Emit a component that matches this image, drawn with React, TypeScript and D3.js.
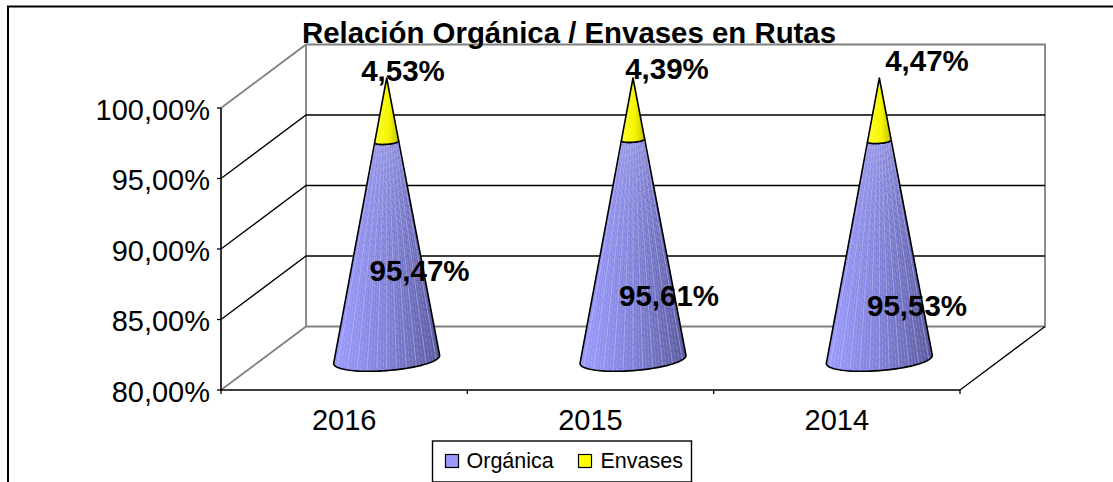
import React from "react";
import * as d3 from "d3";

const categories = ["2016", "2015", "2014"];
const organica = [95.47, 95.61, 95.53];
const envases = [4.53, 4.39, 4.47];
const yTicks = [80, 85, 90, 95, 100];
const labelPos = [
  { o: [419.5, 280.5], e: [403, 80.5] },
  { o: [669, 305.5], e: [667, 79] },
  { o: [917, 315.5], e: [927, 70.5] },
];
const FONT = "'Liberation Sans', Arial, sans-serif";
const W = 1113, H = 482;
const front = { l: 221, r: 960, b: 390, t: 108 };
const depth = { x: 85, y: -63 };
const x = d3.scaleBand<string>().domain(categories).range([front.l, front.r]);
const yFront = d3.scaleLinear().domain([80, 100]).range([front.b, front.t]);
const yBack = (v: number) => yFront(v) + depth.y - 0.5;
const yMid = d3.scaleLinear().domain([80, 100]).range([362, 78]);
const radius = d3.scaleLinear().domain([80, 100]).range([53, 0]);
const line = d3.line<[number, number]>();
const pct = (v: number) => v.toFixed(2).replace(".", ",") + "%";

function rimY(v: number, px: number, s: number) {
  const r = radius(v);
  return yMid(v) + s * 0.21 * r - (4 * px) / 53 - (2.5 * r) / 53;
}

function edge(cx: number, v: number): [number, number][] {
  const r = radius(v);
  const pts: [number, number][] = [];
  const n = 40;
  for (let i = 0; i <= n; i++) {
    const a = (Math.PI * i) / n;
    const px = -Math.cos(a) * r;
    pts.push([cx + px, rimY(v, px, Math.sin(a))]);
  }
  return pts;
}

function Cone({ cx, v0, v1, fill }: { cx: number; v0: number; v1: number; fill: string }) {
  const bottom = edge(cx, v0);
  const top = v1 >= 99.999 ? [[cx, yMid(100)] as [number, number]] : edge(cx, v1).reverse();
  const d = line([...bottom, ...top]) + "Z";
  return <path d={d} fill={fill} stroke="#000" strokeWidth={1.6} strokeLinejoin="round" />;
}

function Stripes({ cx, v0, v1 }: { cx: number; v0: number; v1: number }) {
  const fracs = d3.range(-0.93, 0.94, 0.062);
  return (
    <g stroke="#d4d4ff" strokeWidth={0.9}>
      {fracs.map((f, i) => {
        const px0 = f * radius(v0);
        const px1 = f * radius(v1);
        return (
          <line
            key={i}
            x1={cx + px0}
            y1={rimY(v0, px0, Math.sqrt(1 - f * f)) - 1}
            x2={cx + px1}
            y2={rimY(v1, px1, Math.sqrt(1 - f * f)) + 1}
            strokeOpacity={i % 3 === 0 ? 0.55 : 0.3}
            strokeDasharray={i % 3 === 0 ? "14 1" : "5 2"}
            strokeDashoffset={i * 2.3}
          />
        );
      })}
    </g>
  );
}

export default function App() {
  const backTicks = yTicks.slice(1, -1);
  return (
    <svg width={W} height={H} style={{ position: "absolute", left: 0, top: 0, background: "#fff" }} fontFamily={FONT}>
      <defs>
        <linearGradient id="org" x1="0" x2="1" y1="0" y2="0">
          <stop offset="0" stopColor="#9c9cff" />
          <stop offset="0.5" stopColor="#8080d8" />
          <stop offset="1" stopColor="#5a5a9c" />
        </linearGradient>
        <linearGradient id="env" x1="0" x2="1" y1="0" y2="0">
          <stop offset="0" stopColor="#ffff33" />
          <stop offset="0.6" stopColor="#f4f400" />
          <stop offset="1" stopColor="#c0c000" />
        </linearGradient>
      </defs>
      <path d="M8 500V6.5H1120" fill="none" stroke="#000" strokeWidth={2} />

      {/* back wall and floor */}
      <g fill="none" stroke="#808080" strokeWidth={1.8}>
        <path d={line([[front.l, front.t], [front.l + depth.x, yBack(100)], [front.r + depth.x, yBack(100)], [front.r + depth.x, yBack(80)], [front.l + depth.x, yBack(80)], [front.l + depth.x, yBack(100)]])!} />
        <path d={line([[front.l, front.b], [front.l + depth.x, yBack(80)]])!} />
      </g>
      <g fill="none" stroke="#000" strokeWidth={1.3}>
        {backTicks.map((t) => (
          <path key={t} d={line([[front.l, yFront(t)], [front.l + depth.x, yBack(t)], [front.r + depth.x, yBack(t)]])!} />
        ))}
        <path d={line([[front.r, front.b], [front.r + depth.x, yBack(80)]])!} />
        <path d={line([[front.l, front.t], [front.l, front.b], [front.r, front.b]])!} strokeWidth={1.6} />
        {yTicks.map((t) => (
          <line key={t} x1={front.l - 4} x2={front.l} y1={yFront(t)} y2={yFront(t)} />
        ))}
        {[...categories.map((c) => x(c)!), front.r].map((px) => (
          <line key={px} x1={px} x2={px} y1={front.b} y2={front.b + 4} />
        ))}
      </g>

      {yTicks.map((t) => (
        <text key={t} x={210} y={yFront(t) + 11.5} textAnchor="end" fontSize={29} fill="#000">
          {pct(t)}
        </text>
      ))}
      {categories.map((c) => (
        <text key={c} x={x(c)! + x.bandwidth() / 2} y={430} textAnchor="middle" fontSize={29} fill="#000">
          {c}
        </text>
      ))}

      {/* cones */}
      {categories.map((c, i) => {
        const cx = x(c)! + x.bandwidth() / 2 + depth.x / 2;
        const split = organica[i];
        return (
          <g key={c}>
            <Cone cx={cx} v0={80} v1={split} fill="url(#org)" />
            <Stripes cx={cx} v0={80} v1={split} />
            <Cone cx={cx} v0={split} v1={split + envases[i]} fill="url(#env)" />
          </g>
        );
      })}

      {/* data labels */}
      {categories.map((c, i) => (
        <g key={c} fontWeight={700} fontSize={29.5} textAnchor="middle" fill="#000">
          <text x={labelPos[i].o[0]} y={labelPos[i].o[1]}>{pct(organica[i])}</text>
          <text x={labelPos[i].e[0]} y={labelPos[i].e[1]}>{pct(envases[i])}</text>
        </g>
      ))}

      <text x={569} y={43} textAnchor="middle" fontWeight={700} fontSize={29.4} fill="#000">
        Relación Orgánica / Envases en Rutas
      </text>

      {/* legend */}
      <rect x={432.5} y={441} width={259} height={41} fill="#fff" stroke="#000" strokeWidth={1.4} />
      <rect x={445.5} y={454.5} width={13} height={13} fill="#9999ff" stroke="#000" strokeWidth={1.2} />
      <text x={466.5} y={468} fontSize={21.5} fill="#000">Orgánica</text>
      <rect x={578.5} y={454.5} width={13} height={13} fill="#ffff00" stroke="#000" strokeWidth={1.2} />
      <text x={600.5} y={468} fontSize={21.5} fill="#000">Envases</text>
    </svg>
  );
}
